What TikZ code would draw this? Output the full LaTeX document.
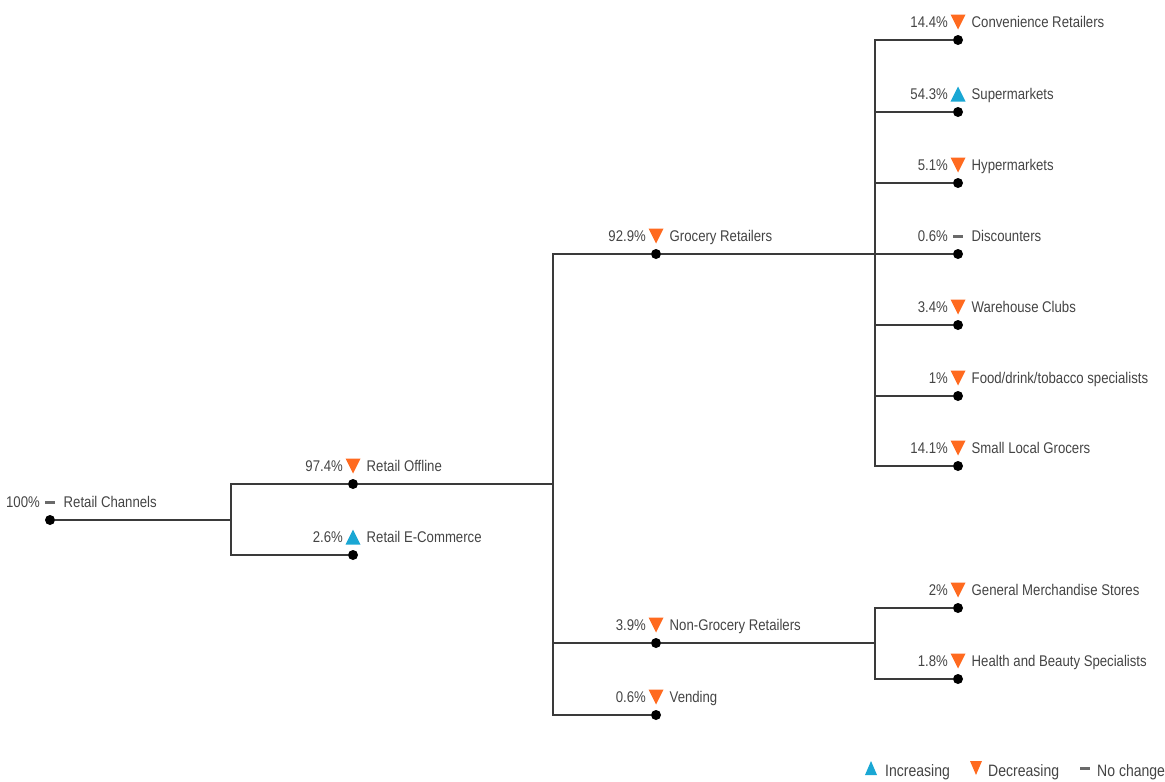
\documentclass[tikz,border=0pt]{standalone}
\usepackage{fontspec}
\setmainfont{Liberation Sans}[FakeStretch=0.85]
\definecolor{dec}{HTML}{FF6A1F}
\definecolor{inc}{HTML}{1AA7D4}
\definecolor{txt}{HTML}{444444}
\definecolor{ln}{HTML}{3A3A3A}
\definecolor{nc}{HTML}{6A6A6A}
\tikzset{
  dot/.style={circle, fill=black, inner sep=0pt, minimum size=10pt},
  conn/.style={draw=ln, line width=1.4pt},
  lbl/.style={font=\fontsize{15.5}{18}\selectfont, text=txt, inner sep=0pt},
  leglbl/.style={font=\fontsize{16.5}{19}\selectfont, text=txt, inner sep=0pt},
  mkdown/.pic={\fill[dec] (-7.5,-7.5) -- (7.5,-7.5) -- (0,7.5) -- cycle;},
  mkup/.pic={\fill[inc] (-7.5,7.5) -- (7.5,7.5) -- (0,-7.5) -- cycle;},
  mknone/.pic={\fill[nc] (-5,-1.5) rectangle (5,1.5);},
  lgdown/.pic={\fill[dec] (-6,-7) -- (6,-7) -- (0,7) -- cycle;},
  lgup/.pic={\fill[inc] (-6,7) -- (6,7) -- (0,-7) -- cycle;},
}
\newcommand\chnode[6]{%
  \node[dot] (#1) at (#2,#3) {};
  \node[lbl, anchor=base east] (#1-p) at ([xshift=-10pt,yshift=12.5pt]#1.center) {#4};
  \pic at ([yshift=18pt]#1.center) {#5};
  \node[lbl, anchor=base west] (#1-l) at ([xshift=13.5pt,yshift=12.5pt]#1.center) {#6};
}
\begin{document}
\begin{tikzpicture}[x=1pt,y=-1pt]
\useasboundingbox (0,0) rectangle (1165,782);
% junctions
\coordinate (j1) at (231,520);
\coordinate (j2) at (553,484);
\coordinate (j3) at (875,254);
\coordinate (j4) at (875,643);
% nodes
\chnode{root}{50}{520}{100\%}{mknone}{Retail Channels}
\chnode{off}{353}{484}{97.4\%}{mkdown}{Retail Offline}
\chnode{ecom}{353}{555}{2.6\%}{mkup}{Retail E-Commerce}
\chnode{groc}{656}{254}{92.9\%}{mkdown}{Grocery Retailers}
\chnode{nongroc}{656}{643}{3.9\%}{mkdown}{Non-Grocery Retailers}
\chnode{vend}{656}{715}{0.6\%}{mkdown}{Vending}
\chnode{conv}{958}{40}{14.4\%}{mkdown}{Convenience Retailers}
\chnode{super}{958}{112}{54.3\%}{mkup}{Supermarkets}
\chnode{hyper}{958}{183}{5.1\%}{mkdown}{Hypermarkets}
\chnode{disc}{958}{254}{0.6\%}{mknone}{Discounters}
\chnode{ware}{958}{325}{3.4\%}{mkdown}{Warehouse Clubs}
\chnode{food}{958}{396}{1\%}{mkdown}{Food/drink/tobacco specialists}
\chnode{small}{958}{466}{14.1\%}{mkdown}{Small Local Grocers}
\chnode{gms}{958}{608}{2\%}{mkdown}{General Merchandise Stores}
\chnode{hbs}{958}{679}{1.8\%}{mkdown}{Health and Beauty Specialists}
% connectors
\draw[conn] (root) -- (j1) |- (off);
\draw[conn] (j1) |- (ecom);
\draw[conn] (off) -- (j2) |- (groc);
\draw[conn] (j2) |- (nongroc);
\draw[conn] (j2) |- (vend);
\draw[conn] (groc) -- (j3) -- (disc);
\draw[conn] (j3) |- (conv);
\draw[conn] (j3) |- (super);
\draw[conn] (j3) |- (hyper);
\draw[conn] (j3) |- (ware);
\draw[conn] (j3) |- (food);
\draw[conn] (j3) |- (small);
\draw[conn] (nongroc) -- (j4) |- (gms);
\draw[conn] (j4) |- (hbs);
% legend
\pic at (871,768) {lgup};
\node[leglbl, anchor=base west] (leg1) at (885,776) {Increasing};
\pic at (976,768) {lgdown};
\node[leglbl, anchor=base west] (leg2) at (988,776) {Decreasing};
\pic at (1085,768) {mknone};
\node[leglbl, anchor=base west] (leg3) at (1097,776) {No change};
\end{tikzpicture}
\end{document}
